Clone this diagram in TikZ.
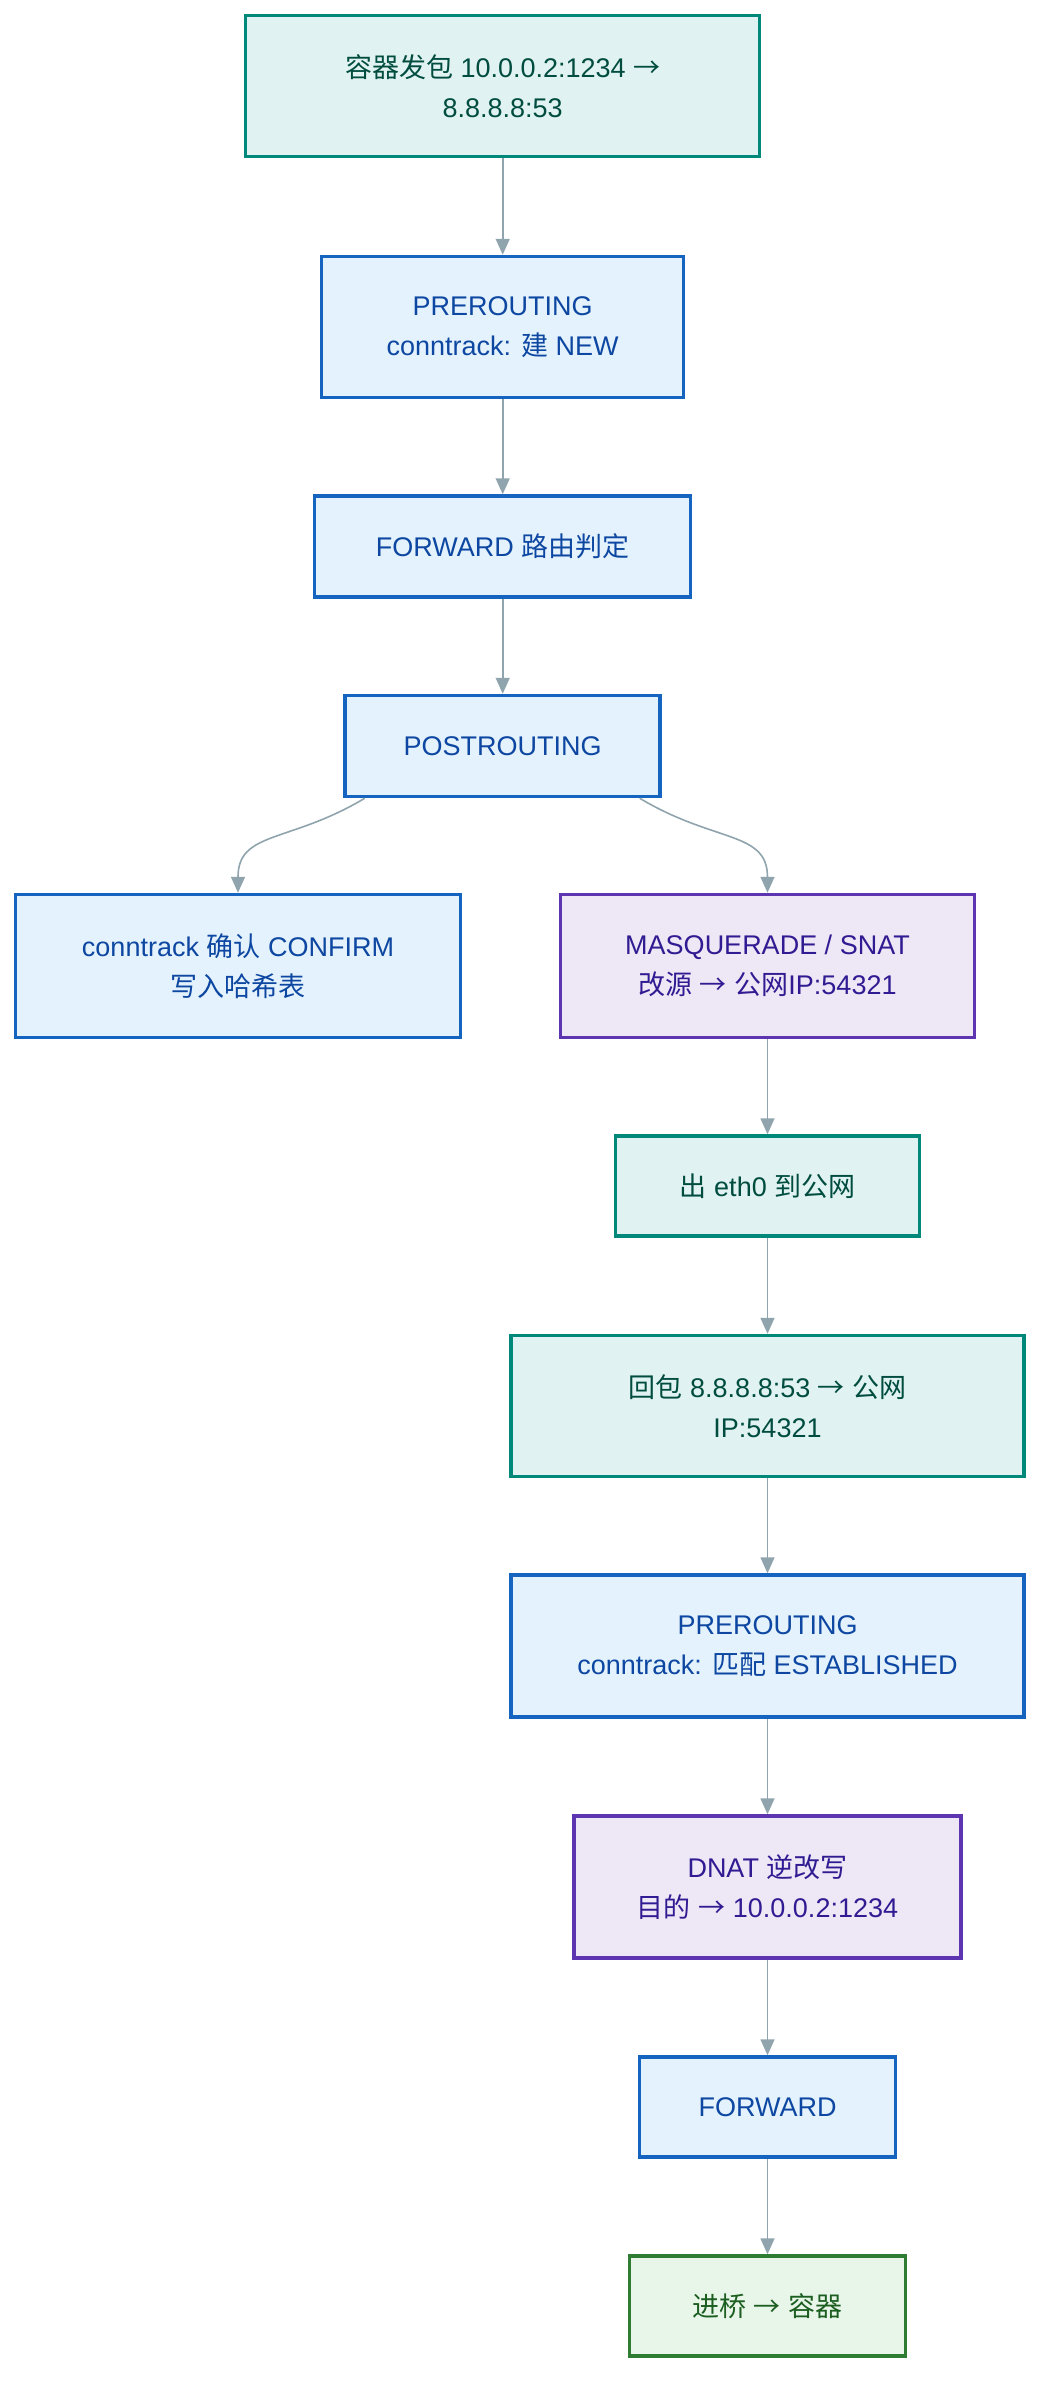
\documentclass[tikz,border=0pt]{standalone}
\usepackage{fontspec}
\setmainfont{Liberation Sans}
\newfontfamily\cjk{Noto Sans CJK SC}
\usetikzlibrary{arrows.meta}
\definecolor{tealF}{HTML}{E0F2F1}
\definecolor{tealD}{HTML}{00897B}
\definecolor{tealT}{HTML}{004D40}
\definecolor{blueF}{HTML}{E3F2FD}
\definecolor{blueD}{HTML}{1565C0}
\definecolor{blueT}{HTML}{0D47A1}
\definecolor{purpF}{HTML}{EDE7F6}
\definecolor{purpD}{HTML}{5E35B1}
\definecolor{purpT}{HTML}{311B92}
\definecolor{grnF}{HTML}{E8F5E9}
\definecolor{grnD}{HTML}{2E7D32}
\definecolor{grnT}{HTML}{1B5E20}
\definecolor{arrC}{HTML}{90A4AE}
\newcommand{\ra}{{\cjk →}}
\tikzset{
  base/.style={draw, line width=3.5pt, align=center, inner sep=0pt,
    font=\fontsize{27}{40}\selectfont},
  tealbox/.style={base, fill=tealF, draw=tealD, text=tealT},
  bluebox/.style={base, fill=blueF, draw=blueD, text=blueT},
  purpbox/.style={base, fill=purpF, draw=purpD, text=purpT},
  grnbox/.style={base, fill=grnF, draw=grnD, text=grnT},
  sz/.style 2 args={minimum width=#1pt, minimum height=#2pt},
  arr/.style={draw=arrC, line width=1.6pt, -{Triangle[length=16pt,width=14pt]}}
}
\begin{document}
\begin{tikzpicture}[x=1pt,y=1pt]
\useasboundingbox (0,0) rectangle (1056,-2406);
\node[tealbox, sz={514}{141}] (n1) at (502.7,-86) {{\cjk 容器发包} 10.0.0.2:1234 \ra\\8.8.8.8:53};
\node[bluebox, sz={362}{141}] (n2) at (502.7,-327) {PREROUTING\\conntrack: {\cjk 建} NEW};
\node[bluebox, sz={376}{101}] (n3) at (502.7,-546.5) {FORWARD {\cjk 路由判定}};
\node[bluebox, sz={315}{101}] (n4) at (502.7,-746) {POSTROUTING};
\node[bluebox, sz={445}{143}] (n5) at (238,-966) {conntrack {\cjk 确认} CONFIRM\\{\cjk 写入哈希表}};
\node[purpbox, sz={414}{143}] (n6) at (767.5,-966) {MASQUERADE / SNAT\\{\cjk 改源} \ra{} {\cjk 公网}IP:54321};
\node[tealbox, sz={304}{100}] (n7) at (767.5,-1186) {{\cjk 出} eth0 {\cjk 到公网}};
\node[tealbox, sz={513}{141}] (n8) at (767.5,-1406) {{\cjk 回包} 8.8.8.8:53 \ra{} {\cjk 公网}\\IP:54321};
\node[bluebox, sz={513}{142}] (n9) at (767.5,-1646) {PREROUTING\\conntrack: {\cjk 匹配} ESTABLISHED};
\node[purpbox, sz={387}{142}] (n10) at (767.5,-1887) {DNAT {\cjk 逆改写}\\{\cjk 目的} \ra{} 10.0.0.2:1234};
\node[bluebox, sz={256}{100}] (n11) at (767.5,-2107) {FORWARD};
\node[grnbox, sz={276}{100}] (n12) at (767.5,-2306) {{\cjk 进桥} \ra{} {\cjk 容器}};
\draw[arr] (n1) -- (n2);
\draw[arr] (n2) -- (n3);
\draw[arr] (n3) -- (n4);
\draw[arr] ([xshift=-138pt]n4.south) .. controls +(-75,-45) and +(0,62) .. (n5.north);
\draw[arr] ([xshift=137pt]n4.south) .. controls +(75,-45) and +(0,62) .. (n6.north);
\draw[arr] (n6) -- (n7);
\draw[arr] (n7) -- (n8);
\draw[arr] (n8) -- (n9);
\draw[arr] (n9) -- (n10);
\draw[arr] (n10) -- (n11);
\draw[arr] (n11) -- (n12);
\end{tikzpicture}
\end{document}
